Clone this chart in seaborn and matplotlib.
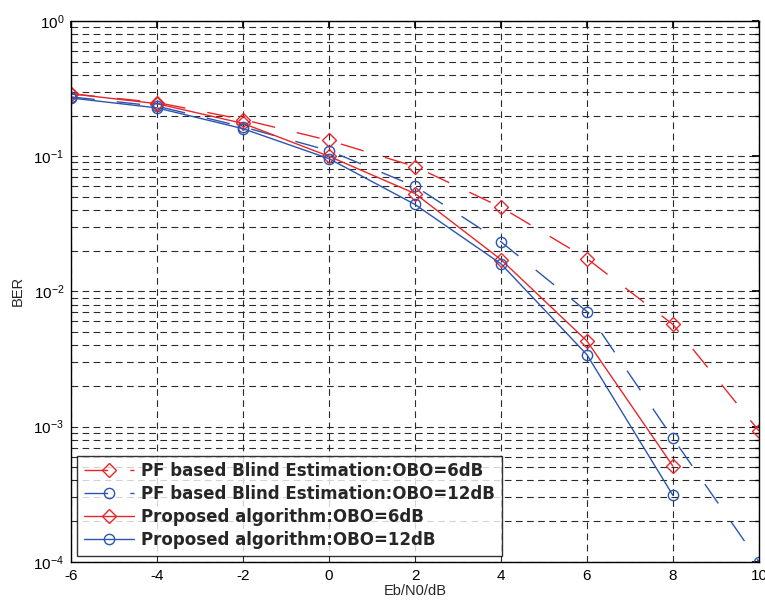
import numpy as np
import pandas as pd
import matplotlib
matplotlib.use("Agg")
import matplotlib.pyplot as plt
import seaborn as sns
from matplotlib.ticker import LogLocator, NullFormatter

# ------------------------------------------------------------------
# data
# ------------------------------------------------------------------
ebn0 = [-6, -4, -2, 0, 2, 4, 6, 8, 10]
ebn0_prop = [-6, -4, -2, 0, 2, 4, 6, 8]

pf_obo6 = [0.29, 0.25, 0.187, 0.131, 0.084, 0.042, 0.0175, 0.0057, 0.00093]
pf_obo12 = [0.275, 0.235, 0.165, 0.11, 0.060, 0.0233, 0.0071, 0.00082, 0.0001]
prop_obo6 = [0.29, 0.245, 0.175, 0.10, 0.053, 0.0172, 0.0043, 0.00051]
prop_obo12 = [0.27, 0.228, 0.16, 0.096, 0.044, 0.016, 0.0034, 0.00031]

labels = [
    "PF based Blind Estimation:OBO=6dB",
    "PF based Blind Estimation:OBO=12dB",
    "Proposed algorithm:OBO=6dB",
    "Proposed algorithm:OBO=12dB",
]

red = "#e8262a"
blue = "#2a55b0"

long_dash = (0, (17, 16))
series = [
    (ebn0, pf_obo6, red, "D", 7, long_dash),
    (ebn0, pf_obo12, blue, "o", 7.4, long_dash),
    (ebn0_prop, prop_obo6, red, "D", 7, "-"),
    (ebn0_prop, prop_obo12, blue, "o", 7.4, "-"),
]

# ------------------------------------------------------------------
# plot
# ------------------------------------------------------------------
sns.set_theme(style="white")
plt.rcParams["font.family"] = ["Liberation Sans", "DejaVu Sans"]
plt.rcParams["axes.unicode_minus"] = False

fig = plt.figure(figsize=(7.65, 6.04), dpi=100)
ax = fig.add_axes([0.093, 0.07, 0.899, 0.895])

for (x, y, col, mk, ms, ls), lab in zip(series, labels):
    df = pd.DataFrame({"x": x, "y": y})
    sns.lineplot(data=df, x="x", y="y", ax=ax, color=col, linewidth=1.0,
                 linestyle=ls, marker=mk, markersize=ms,
                 markerfacecolor="none", markeredgecolor=col,
                 markeredgewidth=1.0, label=lab)

ax.set_yscale("log")
ax.set_xlim(-6, 10)
ax.set_ylim(1e-4, 1)
ax.set_xticks(range(-6, 11, 2))
ax.yaxis.set_major_locator(LogLocator(base=10, numticks=10))
ax.yaxis.set_minor_locator(LogLocator(base=10, subs=np.arange(2, 10), numticks=20))
ax.yaxis.set_minor_formatter(NullFormatter())

ax.grid(True, which="major", axis="both", color="#2a2a2a",
        linestyle=(0, (6, 4)), linewidth=0.8)
ax.grid(True, which="minor", axis="y", color="#2a2a2a",
        linestyle=(0, (6, 4)), linewidth=0.8)

ax.tick_params(which="both", direction="in", top=True, right=True,
               labelsize=11, colors="black")
ax.tick_params(which="major", length=5, pad=5)
ax.tick_params(which="minor", length=3)
for sp in ax.spines.values():
    sp.set_color("black")
    sp.set_linewidth(1.0)

ax.set_xlabel("Eb/N0/dB", fontsize=10.5, labelpad=1)
ax.set_ylabel("BER", fontsize=10.5, labelpad=6)

leg = ax.legend(loc="lower left", prop={"family": "DejaVu Sans", "weight": "bold", "size": 12},
                frameon=True, fancybox=False, edgecolor="black",
                borderaxespad=0.35, handlelength=3.0, handletextpad=0.45,
                labelspacing=0.3, borderpad=0.4)
leg.get_frame().set_linewidth(1.0)

fig.savefig("out.png", dpi=100)
